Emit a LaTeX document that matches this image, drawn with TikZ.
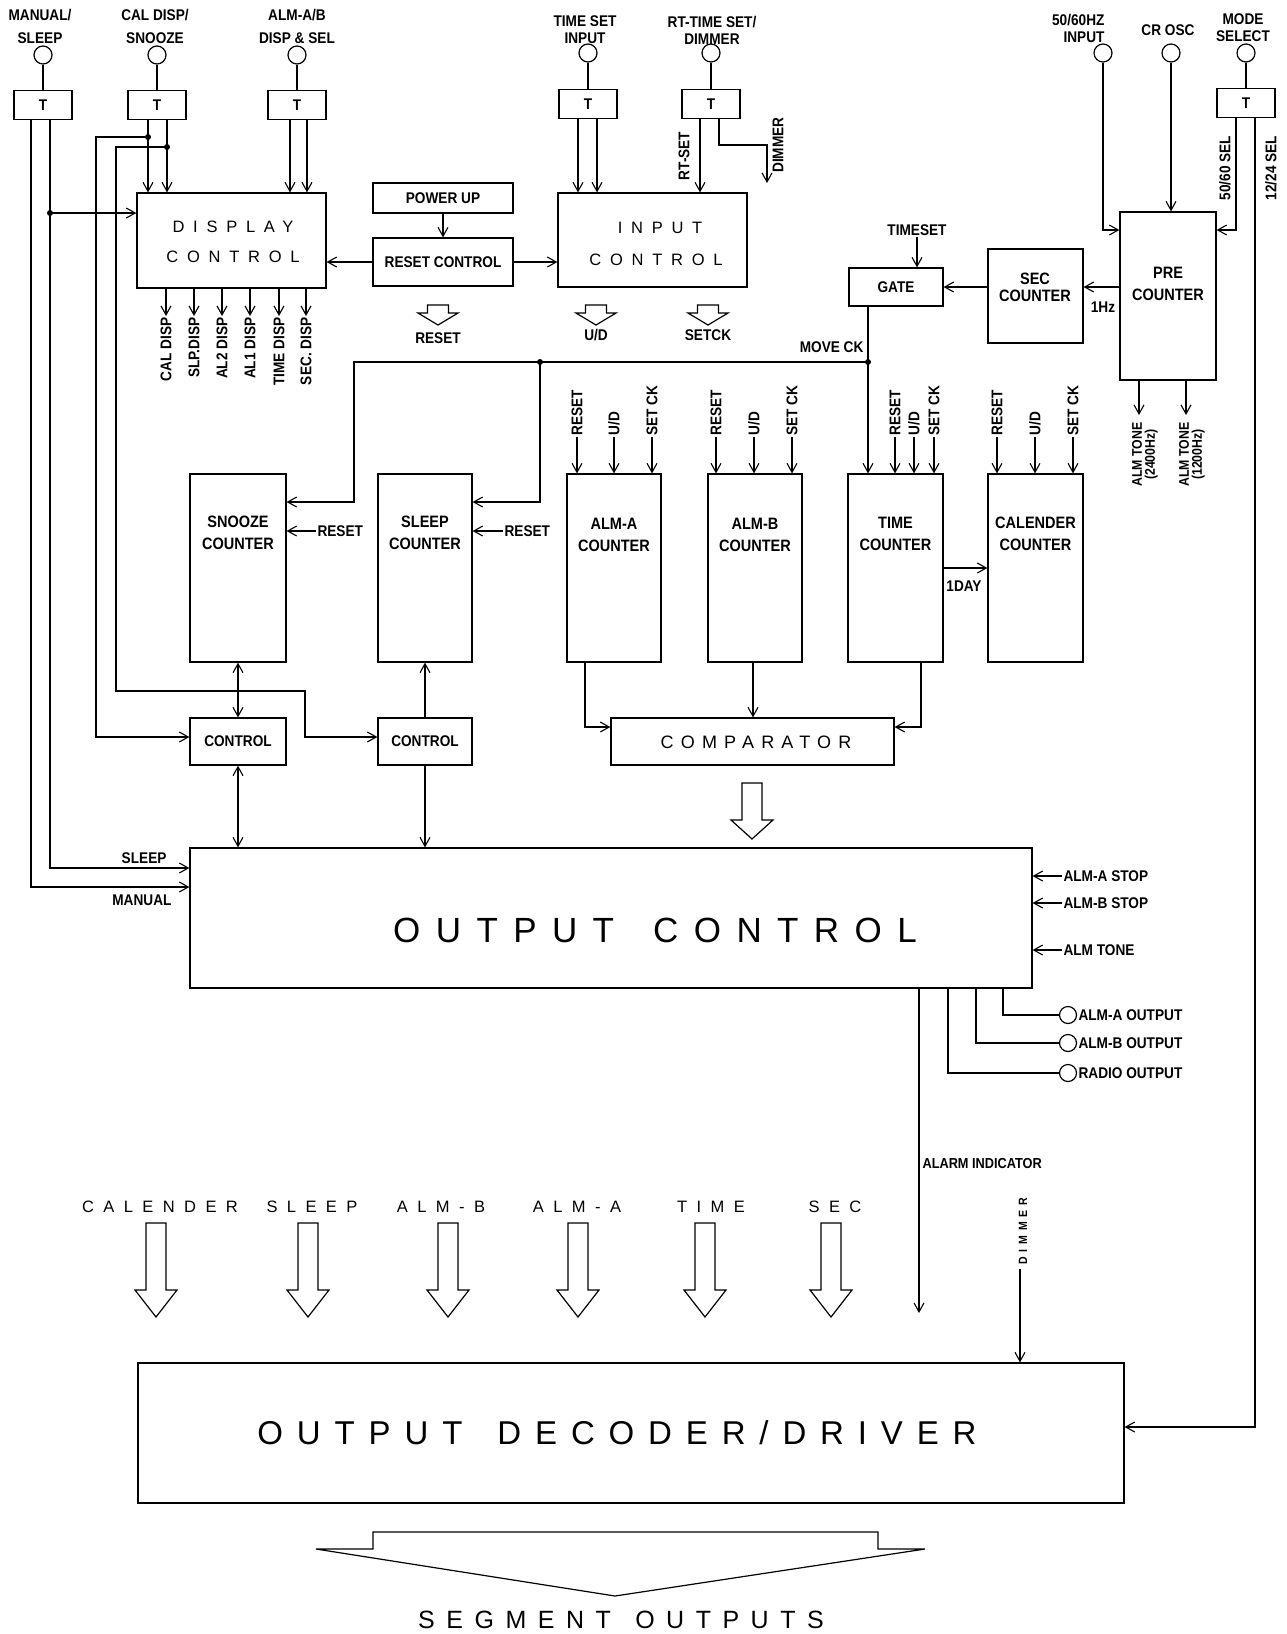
\documentclass[tikz,border=0pt]{standalone}
\usepackage{fontspec}
\setmainfont{Liberation Sans}
\newfontfamily\labf{Liberation Sans}[FakeStretch=0.88]
\newfontfamily\widef{Liberation Sans}
\usetikzlibrary{arrows.meta,calc}
\newcommand{\hdown}[6]{%
  \draw[hollow] (#1-#5,#2) -- (#1+#5,#2) -- (#1+#5,#3) -- (#1+#6,#3) -- (#1,#4) -- (#1-#6,#3) -- (#1-#5,#3) -- cycle;}
\tikzset{
  box/.style={draw, line width=1.2pt, inner sep=0pt, align=center},
  lab/.style={font=\labf\bfseries\fontsize{15.5}{17}\selectfont, inner sep=1pt, align=center},
  labW/.style={font=\labf\bfseries\fontsize{15.5}{23}\selectfont, inner sep=1pt, align=center},
  labB/.style={font=\labf\bfseries\fontsize{16.5}{22}\selectfont, inner sep=1pt, align=center},
  arr/.style={-{Straight Barb[length=9pt,width=10pt]}},
  dbl/.style={{Straight Barb[length=9pt,width=10pt]}-{Straight Barb[length=9pt,width=10pt]}},
  term/.style={circle, draw, line width=1.2pt, minimum size=18pt, inner sep=0pt},
  hollow/.style={draw, line width=1.2pt, line join=miter},
  wid/.style 2 args={font=\widef\fontsize{#1}{#1}\selectfont\addfontfeature{LetterSpace=#2}, inner sep=0pt},
  tbox/.style={box, minimum width=58pt, minimum height=29pt, font=\labf\bfseries\fontsize{15.5}{17}\selectfont},
}
\newcommand{\dout}[3]{\node[lab, rotate=90, anchor=east] (#1) at (#2,316) {#3};
  \draw[arr] (disp.south -| #1.east) -- (#1.east);}
\newcommand{\cin}[4]{\node[lab, rotate=90, anchor=west] (#1) at (#2,437) {#3};
  \draw[arr] (#1.west) -- (#4.north -| #1.west);}
\begin{document}
\begin{tikzpicture}[x=1pt,y=-1pt,line width=1.1pt]
\fill[white] (0,0) rectangle (1286,1634);
\useasboundingbox (0,0) rectangle (1286,1634);

% ---------- top terminals ----------
\node[labW] (lA) at (40,26) {MANUAL/\\SLEEP};
\node[labW] (lB) at (155,26) {CAL DISP/\\SNOOZE};
\node[labW] (lC) at (297,26) {ALM-A/B\\DISP \& SEL};
\node[lab] (lD) at (585,30) {TIME SET\\INPUT};
\node[lab] (lE) at (712,30) {RT-TIME SET/\\DIMMER};
\node[lab, align=right, anchor=east] (lH) at (1106,28) {50/60HZ\\INPUT};
\node[lab] (lR) at (1168,30) {CR OSC};
\node[lab] (lM) at (1243,28) {MODE\\SELECT};

\node[term] (cA) at (43,55) {};
\node[term] (cB) at (157,55) {};
\node[term] (cC) at (297,55) {};
\node[term] (cD) at (588,53) {};
\node[term] (cE) at (711,53) {};
\node[term] (cH) at (1103,53) {};
\node[term] (cR) at (1171,53) {};
\node[term] (cM) at (1246,53) {};

\node[tbox] (tA) at (43,105) {T};
\node[tbox] (tB) at (157,105) {T};
\node[tbox] (tC) at (297,105) {T};
\node[tbox] (tD) at (588,104) {T};
\node[tbox] (tE) at (711,104) {T};
\node[tbox] (tF) at (1246,103) {T};
\foreach \a/\b in {cA/tA,cB/tB,cC/tC,cD/tD,cE/tE,cM/tF} {\draw (\a) -- (\b);}

% ---------- boxes ----------
\node[box, minimum width=189pt, minimum height=95pt] (disp) at (231.5,240.5) {};
\node[wid={16.5}{53}] (dispt1) at (233,227) {DISPLAY};
\node[wid={16.5}{53}] (dispt2) at (233,257) {CONTROL};
\node[box, minimum width=140pt, minimum height=30pt, font=\labf\bfseries\fontsize{15.5}{17}\selectfont] (pwr) at (443,198) {POWER UP};
\node[box, minimum width=140pt, minimum height=48pt, font=\labf\bfseries\fontsize{15.5}{17}\selectfont] (rst) at (443,262) {RESET CONTROL};
\node[box, minimum width=189pt, minimum height=94pt] (inp) at (652.5,240) {};
\node[wid={16.5}{53}] (inpt1) at (660,228) {INPUT};
\node[wid={16.5}{53}] (inpt2) at (656,260) {CONTROL};
\node[box, minimum width=94pt, minimum height=38pt, font=\labf\bfseries\fontsize{15.5}{17}\selectfont] (gate) at (896,287) {GATE};
\node[box, minimum width=95pt, minimum height=94pt] (sec) at (1035.5,296) {};
\node[lab, font=\labf\bfseries\fontsize{16.5}{17}\selectfont] (sect) at (1035,287) {SEC\\COUNTER};
\node[box, minimum width=96pt, minimum height=168pt] (pre) at (1168,296) {};
\node[labB] (pret) at (1168,284) {PRE\\COUNTER};

\node[box, minimum width=96pt, minimum height=188pt] (snz) at (238,568) {};
\node[labB] (snzt) at (238,533) {SNOOZE\\COUNTER};
\node[box, minimum width=94pt, minimum height=188pt] (slp) at (425,568) {};
\node[labB] (slpt) at (425,533) {SLEEP\\COUNTER};
\node[box, minimum width=94pt, minimum height=188pt] (alma) at (614,568) {};
\node[labB] (almat) at (614,535) {ALM-A\\COUNTER};
\node[box, minimum width=94pt, minimum height=188pt] (almb) at (755,568) {};
\node[labB] (almbt) at (755,535) {ALM-B\\COUNTER};
\node[box, minimum width=95pt, minimum height=188pt] (time) at (895.5,568) {};
\node[labB] (timet) at (895.5,534) {TIME\\COUNTER};
\node[box, minimum width=95pt, minimum height=188pt] (cal) at (1035.5,568) {};
\node[labB] (calt) at (1035.5,534) {CALENDER\\COUNTER};

\node[box, minimum width=96pt, minimum height=47pt, font=\labf\bfseries\fontsize{15.5}{17}\selectfont] (ctl1) at (238,741.5) {CONTROL};
\node[box, minimum width=94pt, minimum height=47pt, font=\labf\bfseries\fontsize{15.5}{17}\selectfont] (ctl2) at (425,741.5) {CONTROL};
\node[box, minimum width=283pt, minimum height=47pt] (cmp) at (752.5,741.5) {};
\node[wid={18}{40}] (cmpt) at (756,742) {COMPARATOR};

\node[box, minimum width=842pt, minimum height=140pt] (outc) at (611,918) {};
\node[wid={35}{44}] (outct) at (655,930) {OUTPUT\hspace{14pt} CONTROL};
\node[box, minimum width=986pt, minimum height=140pt] (dec) at (631,1433) {};
\node[wid={33}{42}] (dect) at (617,1433) {OUTPUT\hspace{12pt} DECODER/DRIVER};

% ---------- MANUAL/SLEEP lines ----------
\coordinate (jA) at (50,213);
\draw[arr] (tA.south -| 31,0) |- (outc.west |- 0,887);
\draw[arr] (tA.south -| jA) |- (outc.west |- 0,868);
\fill (jA) circle (3pt);
\draw[arr] (jA) -- (disp.west |- jA);
\node[lab, anchor=east] (sleepl) at (168,858) {SLEEP};
\node[lab, anchor=east] (manl) at (173,900) {MANUAL};

% ---------- CAL DISP / SNOOZE lines ----------
\coordinate (jB1) at (148,137);
\coordinate (jB2) at (167,147);
\coordinate (w1) at (96,737);
\coordinate (w2) at (116,691);
\coordinate (w3) at (305,737);
\draw[arr] (tB.south -| jB1) -- (disp.north -| jB1);
\draw[arr] (tB.south -| jB2) -- (disp.north -| jB2);
\fill (jB1) circle (3pt);
\fill (jB2) circle (3pt);
\draw[arr] (jB1) -| (w1) -- (ctl1.west |- w1);
\draw[arr] (jB2) -| (w2) -| (w3) -- (ctl2.west |- w3);

% ---------- ALM-A/B ----------
\draw[arr] (tC.south -| 290,0) -- (disp.north -| 290,0);
\draw[arr] (tC.south -| 307,0) -- (disp.north -| 307,0);

% ---------- display outputs ----------
\dout{d1}{166}{CAL DISP}
\dout{d2}{194}{SLP.DISP}
\dout{d3}{222}{AL2 DISP}
\dout{d4}{250}{AL1 DISP}
\dout{d5}{279}{TIME DISP}
\dout{d6}{306}{SEC. DISP}

% ---------- reset / input control ----------
\draw[arr] (pwr) -- (rst);
\draw[arr] (rst.west) -- (disp.east |- rst.west);
\draw[arr] (rst.east) -- (inp.west |- rst.east);
\hdown{438}{305}{313}{325}{10.5}{20}
\hdown{596}{305}{313}{325}{10.5}{20}
\hdown{708}{305}{313}{325}{10.5}{20}
\node[lab] (rstl) at (438,338) {RESET};
\node[lab] (udl) at (596,335) {U/D};
\node[lab] (sckl) at (708,335) {SETCK};

\draw[arr] (tD.south -| 578,0) -- (inp.north -| 578,0);
\draw[arr] (tD.south -| 597,0) -- (inp.north -| 597,0);
\draw[arr] (tE.south -| 700,0) -- (inp.north -| 700,0);
\node[lab, rotate=90] (rtset) at (684,156) {RT-SET};
\coordinate (dimE) at (767,183);
\draw[arr] (tE.south -| 719,0) |- (767,145) -- (dimE);
\node[lab, rotate=90] (dimT) at (778,145) {DIMMER};

% ---------- pre counter area ----------
\draw[arr] (cH.south) |- (pre.west |- 0,230);
\draw[arr] (cR.south) -- (pre.north -| cR.south);
\draw[arr] (tF.south -| 1236,0) |- (pre.east |- 0,230);
\draw[arr] (tF.south -| 1255,0) |- (dec.east |- 0,1427);
\node[lab, rotate=90] (sel5060) at (1225,168) {50/60 SEL};
\node[lab, rotate=90] (sel1224) at (1271,168) {12/24 SEL};
\draw[arr] (pre.west |- 0,287) -- (sec.east |- 0,287);
\node[lab] (hz) at (1103,307) {1Hz};
\draw[arr] (sec.west |- gate.east) -- (gate.east);
\node[lab] (tsl) at (917,230) {TIMESET};
\draw[arr] (tsl.south) -- (gate.north -| tsl.south);
\coordinate (tone1) at (1139,415);
\coordinate (tone2) at (1186,415);
\draw[arr] (pre.south -| tone1) -- (tone1);
\draw[arr] (pre.south -| tone2) -- (tone2);
\node[lab, rotate=90, anchor=east, font=\labf\bfseries\fontsize{14}{13}\selectfont] (tonel1) at (1145,421) {ALM TONE\\(2400Hz)};
\node[lab, rotate=90, anchor=east, font=\labf\bfseries\fontsize{14}{13}\selectfont] (tonel2) at (1192,421) {ALM TONE\\(1200Hz)};

% ---------- move ck ----------
\coordinate (jM) at (868,362);
\coordinate (jS) at (540,362);
\draw[arr] (gate.south -| jM) -- (time.north -| jM);
\fill (jM) circle (3pt);
\fill (jS) circle (3pt);
\node[lab, anchor=east] (mck) at (865,347) {MOVE CK};
\draw[arr] (jM) -- (354,362) |- (snz.east |- 0,502);
\draw[arr] (jS) |- (slp.east |- 0,502);
\node[lab, anchor=west] (snzr) at (316,531) {RESET};
\draw[arr] (snzr.west) -- (snz.east |- snzr.west);
\node[lab, anchor=west] (slpr) at (503,531) {RESET};
\draw[arr] (slpr.west) -- (slp.east |- slpr.west);

% ---------- counter inputs ----------
\cin{a1}{577}{RESET}{alma}
\cin{a2}{614}{U/D}{alma}
\cin{a3}{652}{SET CK}{alma}
\cin{b1}{716}{RESET}{almb}
\cin{b2}{754}{U/D}{almb}
\cin{b3}{792}{SET CK}{almb}
\cin{t1}{895}{RESET}{time}
\cin{t2}{914}{U/D}{time}
\cin{t3}{934}{SET CK}{time}
\cin{k1}{997}{RESET}{cal}
\cin{k2}{1035}{U/D}{cal}
\cin{k3}{1073}{SET CK}{cal}

\draw[arr] (time.east |- 0,568) -- (cal.west |- 0,568);
\node[lab] (day) at (964,586) {1DAY};

% ---------- comparator ----------
\draw[arr] (alma.south -| 585,0) |- (cmp.west |- 0,727);
\draw[arr] (almb.south -| 753,0) -- (cmp.north -| 753,0);
\draw[arr] (time.south -| 921,0) |- (cmp.east |- 0,727);
\hdown{752}{783}{820}{839}{10}{21}

% ---------- control blocks ----------
\draw[dbl] (snz.south) -- (ctl1.north);
\draw[arr] (ctl2.north) -- (slp.south);
\draw[dbl] (ctl1.south) -- (outc.north -| ctl1.south);
\draw[arr] (ctl2.south) -- (outc.north -| ctl2.south);

% ---------- output control right ----------
\node[lab, anchor=west] (asA) at (1062,876) {ALM-A STOP};
\node[lab, anchor=west] (asB) at (1062,903) {ALM-B STOP};
\node[lab, anchor=west] (atn) at (1062,950) {ALM TONE};
\draw[arr] (asA.west) -- (outc.east |- asA.west);
\draw[arr] (asB.west) -- (outc.east |- asB.west);
\draw[arr] (atn.west) -- (outc.east |- atn.west);

\node[term, minimum size=17pt] (oA) at (1068,1015) {};
\node[term, minimum size=17pt] (oB) at (1068,1043) {};
\node[term, minimum size=17pt] (oR) at (1068,1073) {};
\draw (outc.south -| 1003,0) |- (oA.west);
\draw (outc.south -| 976,0) |- (oB.west);
\draw (outc.south -| 948,0) |- (oR.west);
\node[lab, anchor=west] (oAl) at (1077,1015) {ALM-A OUTPUT};
\node[lab, anchor=west] (oBl) at (1077,1043) {ALM-B OUTPUT};
\node[lab, anchor=west] (oRl) at (1077,1073) {RADIO OUTPUT};

\coordinate (aiE) at (919,1313);
\draw[arr] (outc.south -| aiE) -- (aiE);
\node[lab, anchor=west, font=\labf\bfseries\fontsize{14.5}{17}\selectfont] (ail) at (921,1163) {ALARM INDICATOR};

\node[lab, rotate=90, font=\labf\bfseries\fontsize{12}{14}\selectfont\addfontfeature{LetterSpace=40}] (dimB) at (1023,1231) {DIMMER};
\coordinate (dimS) at (1020,1269);
\draw[arr] (dimS) -- (dec.north -| dimS);

% ---------- segment groups ----------
\foreach \x/\t/\n in {156/CALENDER/g1, 308/SLEEP/g2, 437/ALM-B/g3, 573/ALM-A/g4, 707/TIME/g5, 831/SEC/g6}
  {\node[wid={16.5}{57}] (\n) at (\x+4,1207) {\t};}
\foreach \x in {156,308,448,578,705,831}
  {\hdown{\x}{1223}{1290}{1317}{10}{21}}

% ---------- segment outputs ----------
\draw[hollow] (373,1532) -- (878,1532) -- (878,1549) -- (925,1549) -- (615,1596) -- (316,1549) -- (373,1549) -- cycle;
\node[wid={25}{46}] (segt) at (621,1620) {SEGMENT\hspace{6pt} OUTPUTS};
\end{tikzpicture}
\end{document}
